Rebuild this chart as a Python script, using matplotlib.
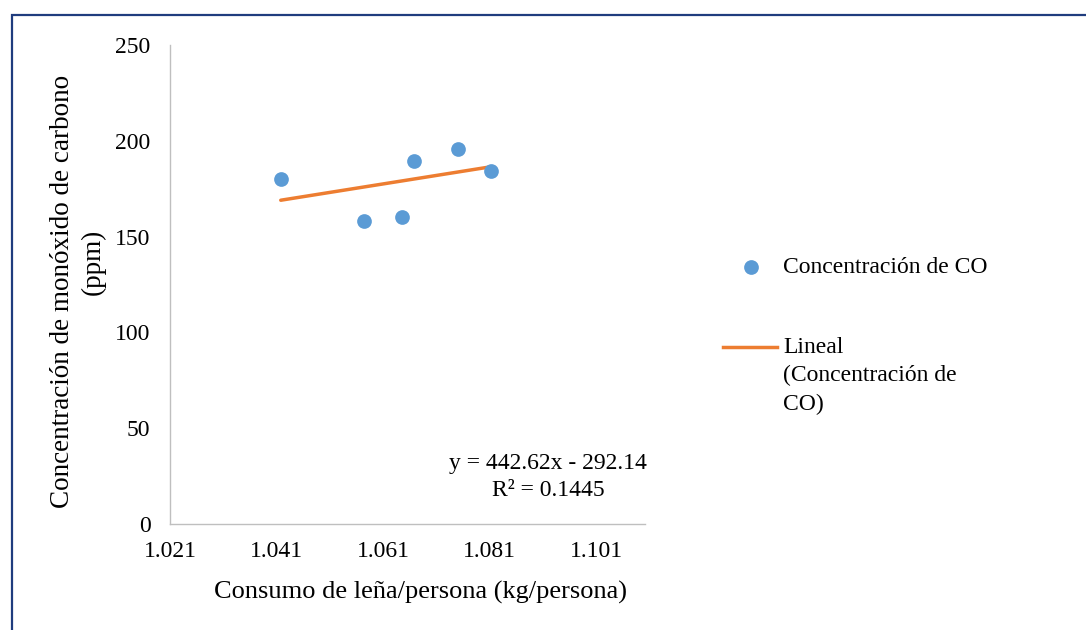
import matplotlib.pyplot as plt
from matplotlib.lines import Line2D
from matplotlib.patches import Rectangle

# Firewood consumption per person vs. CO concentration
consumo = [1.0418, 1.0574, 1.0646, 1.0668, 1.0750, 1.0812]
concentracion = [180.0, 158.3, 160.0, 189.6, 195.7, 184.2]

pendiente = 442.62
intercepto = -292.14
r2 = 0.1445

x_ticks = [1.021, 1.041, 1.061, 1.081, 1.101]
y_ticks = [0, 50, 100, 150, 200, 250]

COLOR_PUNTOS = "#5B9BD5"
COLOR_TENDENCIA = "#ED7D31"
COLOR_EJE = "#BFBFBF"
COLOR_MARCO = "#1F3C7E"

W, H = 1086, 630

plt.rcParams["font.family"] = ["Liberation Serif", "DejaVu Serif"]

fig = plt.figure(figsize=(W / 100, H / 100), dpi=100)
ax = fig.add_axes([170 / W, 1 - 524 / H, 475 / W, 479 / H])

ax.scatter(consumo, concentracion, s=112, color=COLOR_PUNTOS, zorder=3, linewidths=0)

x_fit = [min(consumo), max(consumo)]
y_fit = [pendiente * x + intercepto for x in x_fit]
ax.plot(x_fit, y_fit, color=COLOR_TENDENCIA, lw=2.5, solid_capstyle="round", zorder=2)

ax.set_xlim(1.021, 1.1102)
ax.set_ylim(0, 250)
ax.set_xticks(x_ticks)
ax.set_xticklabels([f"{v:.3f}" for v in x_ticks])
ax.set_yticks(y_ticks)

for side in ("top", "right"):
    ax.spines[side].set_visible(False)
for side in ("left", "bottom"):
    ax.spines[side].set_color(COLOR_EJE)
    ax.spines[side].set_linewidth(1.0)
ax.tick_params(axis="both", length=0, labelsize=17, colors="black")
ax.tick_params(axis="y", pad=14)
ax.tick_params(axis="x", pad=12)

ax.text(0.796, 0.098, f"y = {pendiente}x - {abs(intercepto)}\nR² = {r2}",
        transform=ax.transAxes, ha="center", va="center", multialignment="center",
        fontsize=17, linespacing=1.35)

fig.text(420 / W, 1 - 592 / H, "Consumo de leña/persona (kg/persona)",
         ha="center", va="center", fontsize=19)
fig.text(63 / W, 1 - 291 / H, "Concentración de monóxido de carbono",
         ha="center", va="center", rotation=90, fontsize=19.5)
fig.text(93 / W, 1 - 262 / H, "(ppm)",
         ha="center", va="center", rotation=90, fontsize=19.5)

# legend drawn by hand so the line handle sits on the first text line
fig.add_artist(Line2D([751 / W], [1 - 267 / H], marker="o", markersize=10.6,
                      color=COLOR_PUNTOS, markeredgewidth=0, transform=fig.transFigure))
fig.text(783 / W, 1 - 267 / H, "Concentración de CO", ha="left", va="center", fontsize=17)
fig.add_artist(Line2D([723 / W, 777 / W], [1 - 347 / H] * 2, color=COLOR_TENDENCIA,
                      lw=2.5, transform=fig.transFigure))
fig.text(783 / W, 1 - 337 / H, "Lineal\n(Concentración de\nCO)", ha="left", va="top",
         fontsize=17, linespacing=1.45)

# outer frame, open at the right and bottom edges
fig.add_artist(Rectangle((12 / W, -0.05), 1.1, 1 - 15 / H + 0.05, fill=False,
                         edgecolor=COLOR_MARCO, lw=1.6, transform=fig.transFigure))

fig.savefig("out.png", dpi=100, facecolor="white")
